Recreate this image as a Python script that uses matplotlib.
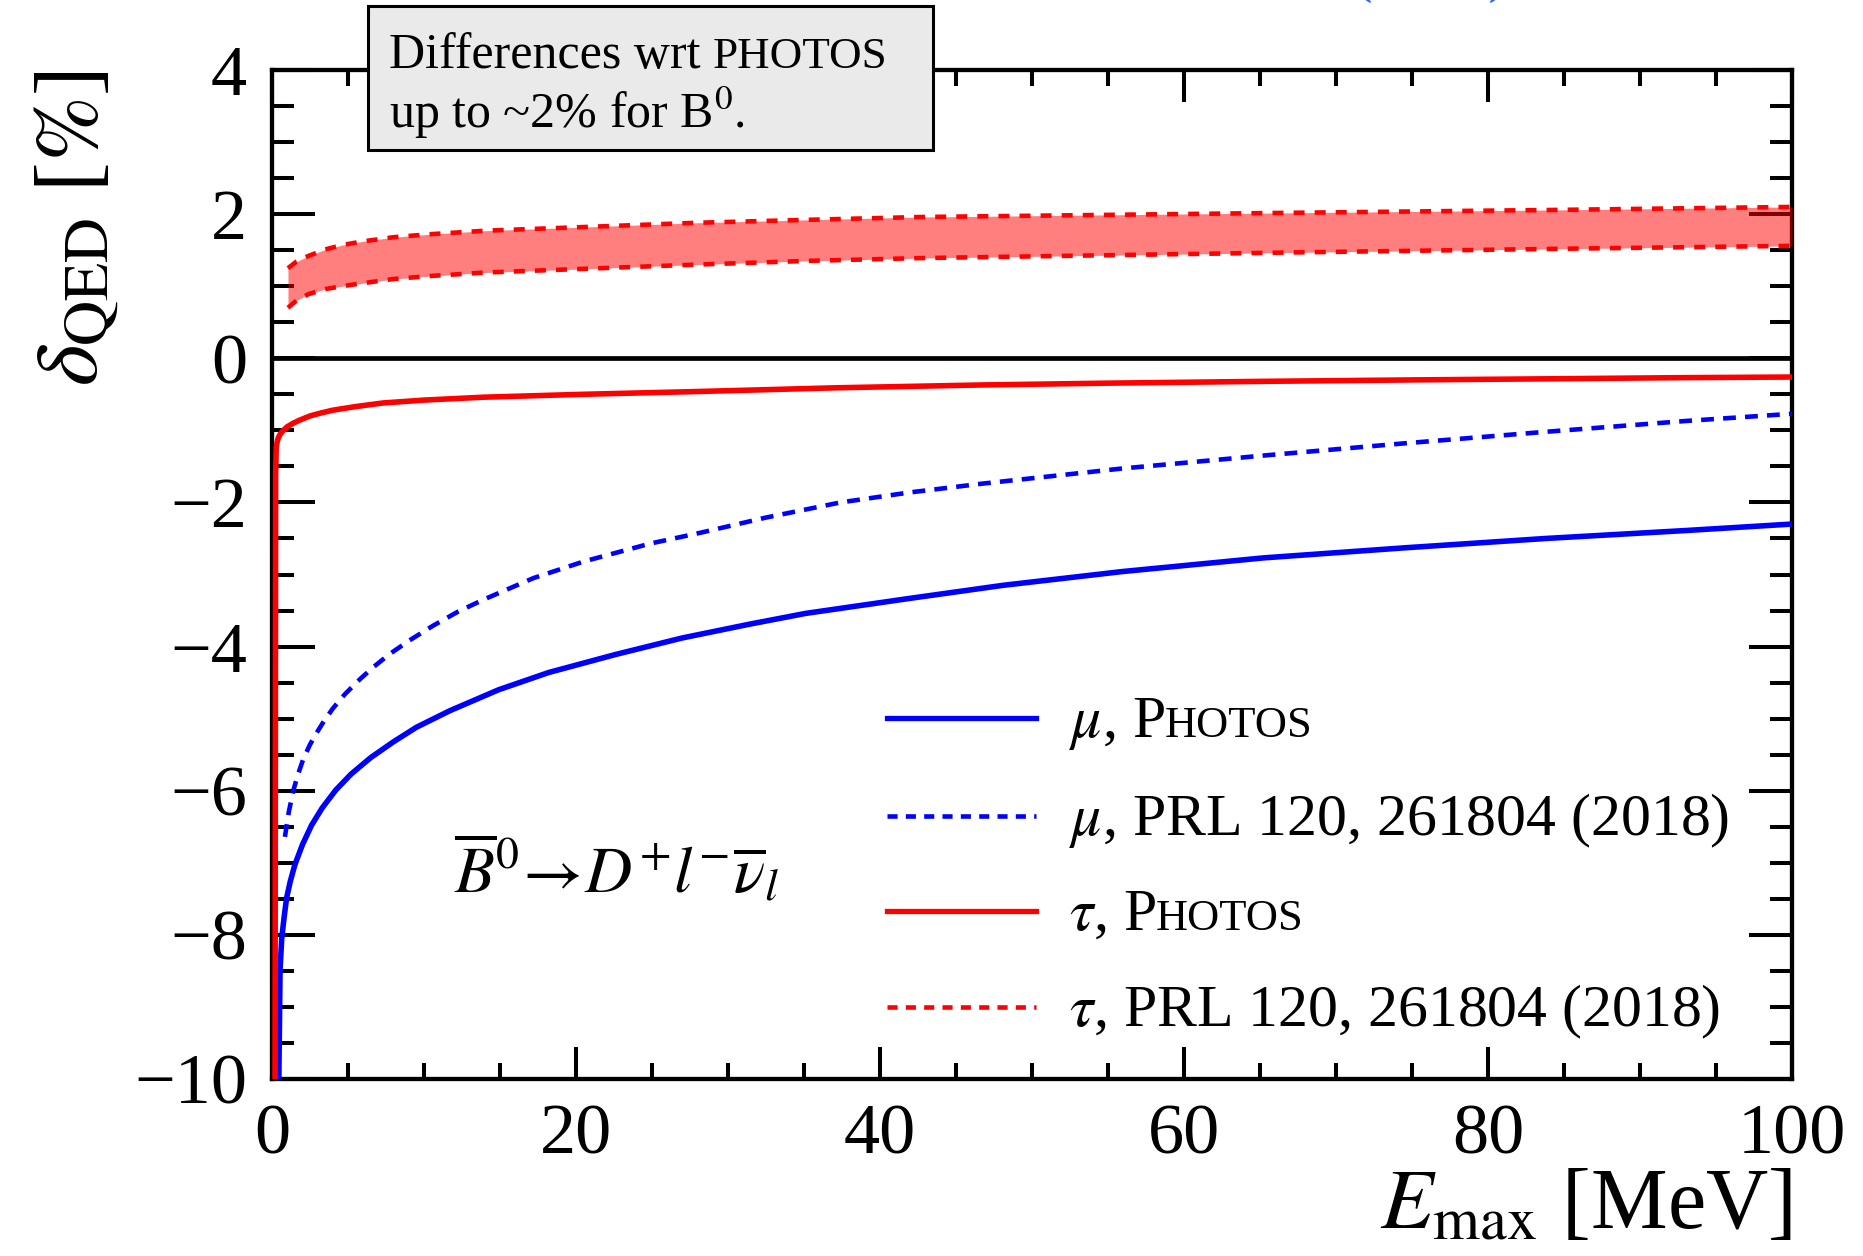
import matplotlib
matplotlib.use("Agg")
import matplotlib.pyplot as plt
from matplotlib.lines import Line2D
from matplotlib.patches import Rectangle
from matplotlib.offsetbox import AnchoredOffsetbox, DrawingArea, HPacker, TextArea
from matplotlib.ticker import MultipleLocator

plt.rcParams.update({
    "font.family": "Liberation Serif",
    "mathtext.fontset": "stix",
    "axes.linewidth": 3.1,
})

W, H, DPI = 1863, 1256, 100
BLUE = "#0000ff"
RED = "#ff0000"

# --- curves ----------------------------------------------------------------
mu_photos_e = [0.45, 0.53, 0.64, 0.8, 0.96, 1.2, 1.5, 2.0, 2.6, 3.3, 4.2, 5.2, 6.5,
               8.0, 9.5, 11.7, 14.9, 18.2, 22.6, 27.0, 31.4, 35.1, 42.0, 48.1,
               55.9, 65.2, 74.5, 83.8, 93.0, 100.0]
mu_photos = [-10.0, -8.48, -8.05, -7.75, -7.49, -7.26, -7.03, -6.75, -6.48, -6.24,
             -5.99, -5.77, -5.54, -5.32, -5.12, -4.89, -4.60, -4.36, -4.11, -3.88,
             -3.69, -3.54, -3.33, -3.15, -2.96, -2.77, -2.63, -2.50, -2.39, -2.30]

mu_prl_e = [0.85, 1.1, 1.4, 1.7, 2.06, 2.5, 2.93, 3.4, 4.0, 4.8, 5.8, 6.7, 7.7,
            9.0, 10.6, 12.2, 13.9, 17.2, 20.5, 24.9, 28.2, 32.5, 37.4, 42.0, 46.7,
            55.9, 65.2, 74.5, 83.8, 93.0, 100.0]
mu_prl = [-6.64, -6.30, -6.00, -5.78, -5.56, -5.36, -5.20, -5.04, -4.86, -4.66,
          -4.45, -4.28, -4.11, -3.92, -3.71, -3.52, -3.35, -3.05, -2.82, -2.57,
          -2.42, -2.21, -2.00, -1.86, -1.74, -1.53, -1.35, -1.18, -1.02, -0.87, -0.77]

tau_photos_e = [0.2, 0.24, 0.28, 0.34, 0.42, 0.55, 0.74, 1.0, 1.4, 1.8, 2.5, 3.2,
                4.0, 5.5, 7.3, 10.0, 13.9, 20.4, 28.2, 37.0, 46.7, 55.0, 65.2,
                75.0, 83.8, 92.0, 100.0]
tau_photos = [-10.0, -1.60, -1.24, -1.16, -1.10, -1.05, -1.00, -0.95, -0.90, -0.86,
              -0.80, -0.76, -0.72, -0.67, -0.62, -0.58, -0.54, -0.50, -0.46, -0.41,
              -0.37, -0.345, -0.32, -0.30, -0.285, -0.27, -0.26]

tau_prl_e = [1.05, 1.6, 2.4, 3.5, 4.6, 5.9, 8.0, 10.3, 14.0, 19.1, 27.9, 35.0,
             42.6, 55.0, 67.6, 85.0, 100.0]
tau_prl_hi = [1.25, 1.34, 1.42, 1.51, 1.57, 1.62, 1.68, 1.72, 1.77, 1.81, 1.88,
              1.92, 1.96, 1.99, 2.02, 2.06, 2.10]
tau_prl_lo = [0.70, 0.80, 0.89, 0.96, 1.00, 1.04, 1.10, 1.14, 1.19, 1.23, 1.30,
              1.35, 1.39, 1.43, 1.47, 1.52, 1.56]

legend_entries = [
    (BLUE, "solid", r"$\mu$, P", "HOTOS"),
    (BLUE, "dashed", r"$\mu$, PRL 120, 261804 (2018)", ""),
    (RED, "solid", r"$\tau$, P", "HOTOS"),
    (RED, "dashed", r"$\tau$, PRL 120, 261804 (2018)", ""),
]

fig = plt.figure(figsize=(W / DPI, H / DPI), dpi=DPI)
ax = fig.add_axes([272 / W, 1 - 1079 / H, (1792 - 272) / W, (1079 - 70) / H])

ax.fill_between(tau_prl_e, tau_prl_lo, tau_prl_hi, color=RED, alpha=0.5, lw=0, zorder=3)
ax.plot(tau_prl_e, tau_prl_hi, color=RED, lw=3.3, dashes=(2.4, 2.2), zorder=4)
ax.plot(tau_prl_e, tau_prl_lo, color=RED, lw=3.3, dashes=(2.4, 2.2), zorder=4)
ax.plot(mu_prl_e, mu_prl, color=BLUE, lw=3.3, dashes=(2.8, 2.0), zorder=4)
ax.plot(mu_photos_e, mu_photos, color=BLUE, lw=4.0, zorder=4)
ax.plot(tau_photos_e, tau_photos, color=RED, lw=4.0, zorder=4)
ax.axhline(0.0, color="black", lw=3.4, zorder=3)

ax.set_xlim(0, 100)
ax.set_ylim(-10, 4)
ax.xaxis.set_major_locator(MultipleLocator(20))
ax.xaxis.set_minor_locator(MultipleLocator(5))
ax.yaxis.set_major_locator(MultipleLocator(2))
ax.yaxis.set_minor_locator(MultipleLocator(0.5))
ax.tick_params(which="both", direction="in", top=True, right=True, width=2.9,
               labelsize=52, pad=18)
ax.tick_params(axis="x", which="major", length=23)
ax.tick_params(axis="x", which="minor", length=11.5)
ax.tick_params(axis="y", which="major", length=31)
ax.tick_params(axis="y", which="minor", length=15.5)

ax.set_xlabel(r"$E_{\mathrm{max}}$ [MeV]", fontsize=62, loc="right")
ax.xaxis.set_label_coords(1.0, -0.088)
ax.set_ylabel(r"$\delta_{\mathrm{QED}}$ [$\mathit{\%}$]", fontsize=64, loc="top")
ax.yaxis.set_label_coords(-0.10, 1.0)

ax.text(12.0, -7.41, r"$\overline{B}^{0}\!\rightarrow\!D^{+}l^{-}\overline{\nu}_{l}$",
        fontsize=47, va="baseline", ha="left")


def baseline_row(parts, handle=None, sep=0.0):
    # keep the text baseline at the vertical centre of the packed row
    words = HPacker(children=[TextArea(t, textprops=dict(fontsize=fs)) for t, fs in parts if t],
                    align="baseline", pad=0, sep=0)
    if handle is None:
        handle = DrawingArea(0, 100, 0, 50)
    return HPacker(children=[handle, words], align="baseline", pad=0, sep=sep)


def place(row, x_px, y_px):
    box = AnchoredOffsetbox(loc="center left", child=row, pad=0, borderpad=0,
                            frameon=False, bbox_to_anchor=(x_px / W, 1 - y_px / H),
                            bbox_transform=fig.transFigure)
    box.set_zorder(6)
    fig.add_artist(box)


# legend
legend_baselines = [737, 835, 930, 1026]
for (color, style, main, small), y_px in zip(legend_entries, legend_baselines):
    da = DrawingArea(107, 100, 0, 50)
    line = Line2D([0, 107], [13.7, 13.7], color=color, lw=3.3 if style == "dashed" else 3.8)
    if style == "dashed":
        line.set_dashes((2.2, 1.8))
    da.add_artist(line)
    place(baseline_row([(main, 43), (small, 32)], handle=da, sep=24), 887, y_px)

# information box above the frame
fig.add_artist(Rectangle((368 / W, 1 - 150 / H), (933 - 368) / W, (150 - 6) / H,
                         transform=fig.transFigure, facecolor="#eaeaea",
                         edgecolor="black", lw=2.2, zorder=4))
place(baseline_row([("Differences wrt ", 36), ("PHOTOS", 32.5)]), 389, 68)
place(baseline_row([(r"up to ~2% for B$^{0}$.", 36)]), 389, 128)

# fragment of a label cut off by the top edge
fig.text(1352 / W, 1 + 9 / H, "(2018)", fontsize=42, color="#2f5fff", va="baseline")

fig.savefig("out.png", dpi=DPI)
